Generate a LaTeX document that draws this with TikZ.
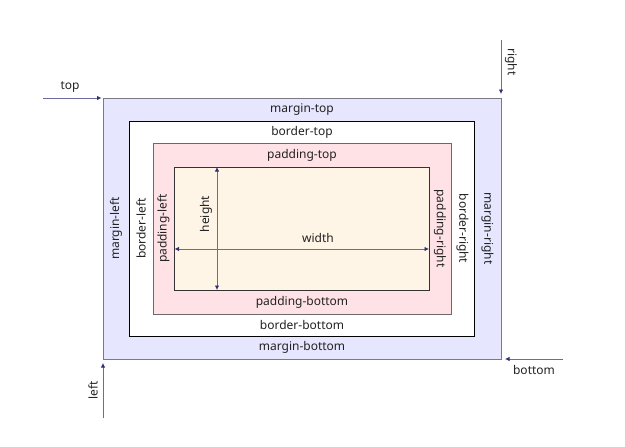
\documentclass[tikz,border=0pt]{standalone}
\usepackage{fontspec}
\setmainfont{Noto Sans}
\usetikzlibrary{arrows.meta}
\definecolor{marginfill}{HTML}{E6E6FF}
\definecolor{paddingfill}{HTML}{FFE2E6}
\definecolor{contentfill}{HTML}{FFF5E6}
\definecolor{margindraw}{HTML}{7A7A80}
\definecolor{paddingdraw}{HTML}{6A6A6A}
\definecolor{contentdraw}{HTML}{333333}
\definecolor{arrowline}{HTML}{6C6C9C}
\definecolor{arrowtip}{HTML}{2E3070}
\definecolor{labeltext}{HTML}{222222}
\begin{document}
\begin{tikzpicture}[x=1pt,y=-1pt,
  font=\fontsize{12}{14}\selectfont,
  boxshape/.style={rectangle, inner sep=0pt, outer sep=0pt, line width=0.9pt},
  lbl/.style={inner sep=0pt, text=labeltext},
  dim/.style={draw=arrowline, line width=0.8pt, -{Latex[length=4.5pt,width=4.5pt,color=arrowtip]}},
  dimboth/.style={draw=arrowline, line width=0.8pt, {Latex[length=4.5pt,width=4.5pt,color=arrowtip]}-{Latex[length=4.5pt,width=4.5pt,color=arrowtip]}},
]
\useasboundingbox (0,0) rectangle (625,447);

% boxes
\node[boxshape, draw=margindraw, fill=marginfill, line width=1pt, minimum width=398pt, minimum height=261pt] (margin) at (302,228.5) {};
\node[boxshape, draw=black, fill=white, minimum width=345pt, minimum height=215pt] (border) at (301.5,228.5) {};
\node[boxshape, draw=paddingdraw, fill=paddingfill, minimum width=298pt, minimum height=171pt] (padding) at (302,228.5) {};
\node[boxshape, draw=contentdraw, fill=contentfill, minimum width=255pt, minimum height=123pt] (content) at (301.5,228.5) {};

% horizontal labels
\node[lbl] (mt) at (302,109.5) {margin-top};
\node[lbl] (bt) at (302,132) {border-top};
\node[lbl] (pt) at (302,155) {padding-top};
\node[lbl] (pb) at (302,302) {padding-bottom};
\node[lbl] (bb) at (302,325) {border-bottom};
\node[lbl] (mb) at (302,347.5) {margin-bottom};

% vertical labels
\node[lbl, rotate=90] (ml) at (116,228.5) {margin-left};
\node[lbl, rotate=90] (bl) at (141,228.5) {border-left};
\node[lbl, rotate=90] (pl) at (163.5,228.5) {padding-left};
\node[lbl, rotate=-90] (pr) at (440,228.5) {padding-right};
\node[lbl, rotate=-90] (br) at (462.5,228.5) {border-right};
\node[lbl, rotate=-90] (mr) at (487.5,228.5) {margin-right};

% width / height
\coordinate (hTop) at (217,167);
\coordinate (hBot) at (217,290);
\coordinate (wLeft) at (174.5,249);
\coordinate (wRight) at (429,249);
\draw[dimboth] (hTop) -- (hBot);
\draw[dimboth] (wLeft) -- (wRight);
\node[lbl, rotate=90] (hl) at (206,214) {height};
\node[lbl] (wl) at (318,238) {width};

% outer arrows
\coordinate (topS) at (43,98);
\coordinate (topE) at (101.5,98);
\draw[dim] (topS) -- (topE);
\node[lbl] (topl) at (70,87) {top};

\coordinate (rightS) at (501,40);
\coordinate (rightE) at (501,94);
\draw[dim] (rightS) -- (rightE);
\node[lbl, rotate=-90] (rightl) at (511,62) {right};

\coordinate (leftS) at (103,418);
\coordinate (leftE) at (103,363);
\draw[dim] (leftS) -- (leftE);
\node[lbl, rotate=90] (leftl) at (93,390) {left};

\coordinate (botS) at (563,359);
\coordinate (botE) at (505,359);
\draw[dim] (botS) -- (botE);
\node[lbl] (botl) at (534,370) {bottom};
\end{tikzpicture}
\end{document}
